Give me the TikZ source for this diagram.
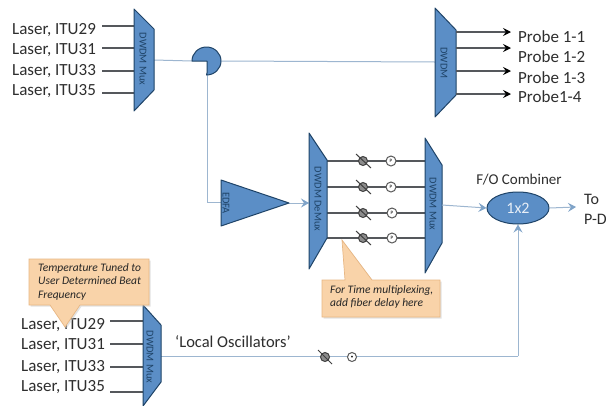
\documentclass[tikz,border=0pt]{standalone}
\usepackage{fontspec}
\setmainfont{Carlito}
\usetikzlibrary{arrows.meta,shadows,shapes.geometric}
\definecolor{muxblue}{HTML}{5B8EC6}
\definecolor{edgeblue}{HTML}{1F4468}
\definecolor{linkblue}{HTML}{9DB6D0}
\definecolor{tipblue}{HTML}{7FA3C8}
\definecolor{darkline}{HTML}{55585C}
\definecolor{txt}{HTML}{2E2E2E}
\definecolor{callout}{HTML}{F9D3A9}
\definecolor{calloutedge}{HTML}{E8B784}
\tikzset{
  x=1pt,y=-1pt,
  device/.style={draw=edgeblue,fill=muxblue,line width=1pt,line join=round},
  lab/.style={font=\fontsize{17}{19}\selectfont,text=txt,inner sep=0pt,anchor=west},
  muxtext/.style={font=\fontsize{10.5}{11}\selectfont,text=edgeblue,rotate=-90,inner sep=0pt},
  wire/.style={draw=darkline,line width=1.1pt},
  link/.style={draw=linkblue,line width=1pt},
  linkarrow/.style={link,-{Stealth[length=8pt,width=9pt,inset=3pt,color=tipblue]}},
  wirearrow/.style={draw=darkline,line width=1.1pt,-{Stealth[length=8pt,width=8pt,inset=3pt,color=black]}},
  calloutbox/.style={fill=callout,draw=calloutedge,line width=.7pt,drop shadow={shadow xshift=1.5pt,shadow yshift=-1.5pt,fill=black!22}},
  notetext/.style={font=\fontsize{11.5}{13.7}\selectfont\itshape,text=black!85,inner sep=0pt,align=left,anchor=north west},
  attn/.style={circle,draw=black!75,fill=black!45,line width=1pt,minimum size=9pt,inner sep=0pt},
  pcirc/.style={circle,draw=black!65,fill=white,line width=1pt,minimum size=10pt,inner sep=0pt,font=\fontsize{5}{5}\selectfont},
}
\begin{document}
\begin{tikzpicture}
\useasboundingbox (0,0) rectangle (606,405);
\fill[white] (0,0) rectangle (606,405);
% ports
\coordinate (m1o) at (154,60);
\coordinate (m2i) at (435,62);
\coordinate (spl) at (192,61);
\coordinate (spr) at (221,61);
\coordinate (spb) at (207,73);
\coordinate (cornerB) at (207,202);
\coordinate (edfain) at (221,202);
\coordinate (edfaout) at (289,203);
\coordinate (demuxin) at (309,203);
\coordinate (lomux) at (161,356);
\coordinate (locorner) at (518,356);
\coordinate (muxCout) at (442,205);
% links
\draw[link] (m1o) -- (spl);
\draw[link] (spr) -- (m2i);
\draw[link] (spb) -- (cornerB) -- (edfain);
\draw[linkarrow] (edfaout) -- (demuxin);
% top-left mux
\foreach \y/\l/\t/\ly in {26/a/29/30,48/b/31/50,71/c/33/71,93/d/35/91}{
  \node[lab] (la\l) at (12,\ly) {Laser, ITU\t};
  \coordinate (pa\l) at (134,\y);
  \draw[wire] (102,\y) -- (pa\l);
}
\draw[device] (134,9) -- (154,29) -- (154,90) -- (134,111) -- cycle;
\node[muxtext] (muxA) at (143,59) {DWDM Mux};
% splitter
\draw[device] (207,73) -- (207,61) -- (192,61)
  arc[start angle=180,end angle=450,x radius=14.5,y radius=14] -- cycle;
% probe mux
\draw[device] (435,8) -- (456,30) -- (456,95) -- (435,117) -- cycle;
\node[muxtext] (muxB) at (444,63) {DWDM};
\foreach \y/\ly/\t in {32/37/Probe 1-1,48/57/Probe 1-2,71/78/Probe 1-3,94/97/Probe1-4}{
  \node[lab] (pr\y) at (518,\ly) {\t};
  \coordinate (po\y) at (456,\y);
  \coordinate (pe\y) at (511,\y);
  \draw[wirearrow] (po\y) -- (pe\y);
}
% EDFA
\draw[device] (221,180) -- (289,203) -- (221,226) -- cycle;
\node[muxtext] (edfa) at (226,203) {EDFA};
% delay-line callout (under the lines)
\draw[calloutbox] (322,280) -- (345,280) -- (342,240) -- (372,280) -- (440,280) -- (440,317) -- (322,317) -- cycle;
\node[notetext] (note1) at (330,285) {For Time multiplexing,\\add fiber delay here};
% delay lines
\foreach \y/\dx in {161/0,187/0,213/1,238/1}{
  \coordinate (dl\y) at (327,\y);
  \coordinate (dr\y) at (425,\y);
  \draw[wire] (dl\y) -- (dr\y);
  \node[attn] (at\y) at (363,\y) {};
  \draw[black!75,line width=1pt] (356,\y-7) -- (371,\y+7);
  \node[pcirc] (pc\y) at (391+\dx,\y) {P};
}
\draw[device] (309,133) -- (327,160) -- (327,238) -- (309,269) -- cycle;
\node[muxtext] (demux) at (318,199) {DWDM DeMux};
\draw[device] (425,138) -- (442,165) -- (442,243) -- (425,273) -- cycle;
\node[muxtext] (muxC) at (433,204) {DWDM Mux};
% combiner
\node[ellipse,draw=edgeblue,fill=muxblue,line width=1pt,minimum width=62pt,minimum height=32pt,inner sep=0pt,text=white!85!muxblue,font=\fontsize{16}{18}\selectfont] (comb) at (518,208) {1x2};
\node[lab,anchor=center,font=\fontsize{15}{17}\selectfont] (combl) at (519,180) {F/O Combiner};
\coordinate (toPD) at (576,207);
\draw[linkarrow] (muxCout) -- (comb.west);
\draw[linkarrow] (comb.east) -- (toPD);
\node[lab,font=\fontsize{16}{18}\selectfont] (to) at (584,199) {To};
\node[lab,font=\fontsize{16}{18}\selectfont] (pd) at (584,219) {P-D};
% local oscillator section
\draw[link] (lomux) -- (locorner);
\draw[linkarrow] (locorner) -- (comb.south);
\node[attn] (loat) at (325,357) {};
\draw[black!75,line width=1pt] (318,350) -- (332,364);
\node[pcirc,minimum size=9pt] (lop) at (352,357) {\textbullet};
\node[lab,font=\fontsize{16.5}{18}\selectfont] (lot) at (175,342) {‘Local Oscillators’};
\foreach \y/\l/\t/\ly/\sx in {321/a/29/325/110,344/b/31/345/110,367/c/33/367/110,392/d/35/387/110}{
  \node[lab] (lb\l) at (21,\ly) {Laser, ITU\t};
  \coordinate (pb\l) at (143,\y);
  \draw[wire] (\sx,\y) -- (pb\l);
}
\draw[device] (143,305) -- (161,325) -- (161,382) -- (143,406) -- cycle;
\node[muxtext] (muxD) at (150,357) {DWDM Mux};
% tuning callout
\draw[calloutbox] (29,259) -- (149,259) -- (149,305) -- (80,305) -- (65,327) -- (50,305) -- (29,305) -- cycle;
\node[notetext] (note2) at (38,263) {Temperature Tuned to\\User Determined Beat\\Frequency};
\end{tikzpicture}
\end{document}
